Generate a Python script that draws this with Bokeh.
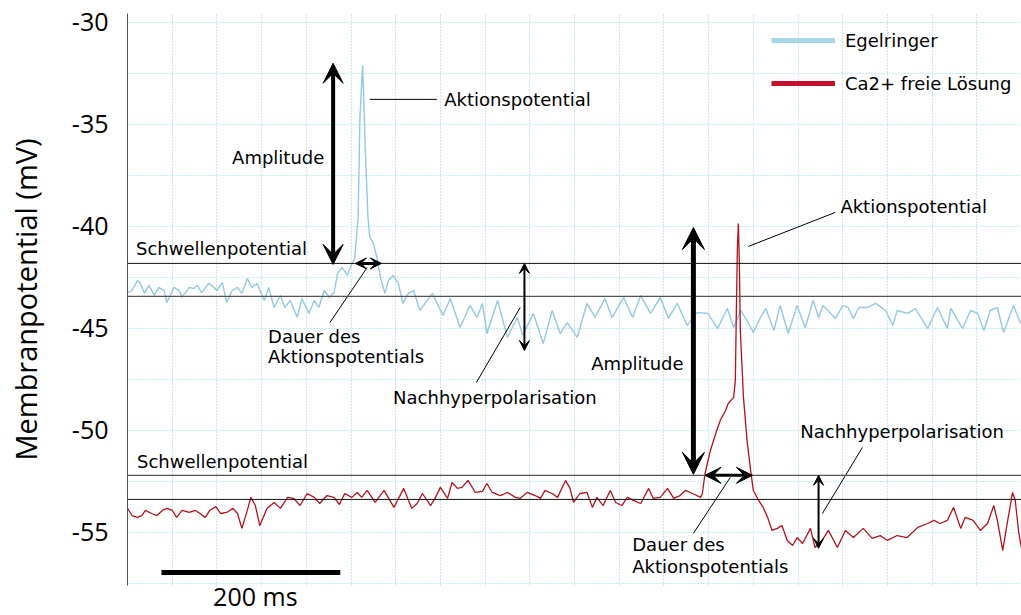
from bokeh.plotting import figure
from bokeh.models import (Range1d, FixedTicker, Span, Arrow, VeeHead, Legend,
                          LegendItem)
from bokeh.core.properties import value
from bokeh.embed import file_html
from bokeh.resources import INLINE

# ---------------- data (time in ms, membrane potential in mV) ----------------
blue_t = [0, 5, 11, 14, 19, 24, 30, 35, 41, 44, 52, 58, 61, 69, 74, 78, 83, 91,
          97, 100, 106, 111, 117, 123, 128, 134, 139, 145, 153, 158, 164, 171,
          176, 182, 190, 195, 203, 209, 214, 220, 226, 231, 235, 240, 246, 249,
          254, 258, 260, 263, 264, 266, 269, 271, 275, 279, 283, 288, 292, 297,
          303, 308, 314, 320, 327, 341, 353, 361, 372, 383, 391, 397, 402, 414,
          425, 436, 442, 454, 465, 475, 484, 492, 503, 514, 523, 534, 542, 555,
          565, 574, 585, 596, 605, 615, 626, 637, 649, 660, 671, 678, 686, 693,
          700, 708, 714, 723, 730, 739, 749, 758, 767, 773, 778, 792, 800, 806,
          812, 818, 828, 837, 848, 856, 861, 873, 881, 895, 906, 917, 921, 934,
          943, 951, 958, 965, 973, 980, 991, 999]
blue_mv = [-43.24, -43.14, -42.65, -42.75, -43.28, -42.89, -43.38, -42.99, -43.14,
           -43.73, -42.99, -43.14, -43.48, -42.99, -43.04, -42.89, -43.24, -42.79,
           -42.99, -43.14, -42.75, -43.73, -43.14, -42.99, -43.28, -42.55, -42.99,
           -42.79, -43.63, -42.99, -43.97, -43.38, -43.97, -43.63, -44.46, -43.53,
           -44.26, -43.63, -43.97, -43.14, -43.48, -43.24, -42.30, -42.01, -42.40,
           -42.01, -41.57, -39.56, -34.66, -32.11, -33.33, -36.27, -39.56, -40.54,
           -40.83, -41.52, -42.50, -43.28, -42.65, -42.40, -42.79, -43.77, -43.28,
           -43.14, -44.12, -43.28, -44.36, -43.53, -44.95, -43.87, -44.46, -43.77,
           -45.25, -43.63, -45.44, -44.46, -45.34, -44.26, -45.74, -44.12, -45.25,
           -44.71, -45.44, -43.77, -44.46, -43.53, -44.46, -43.48, -44.46, -43.38,
           -44.26, -43.48, -44.51, -43.77, -44.85, -44.22, -44.26, -45.00, -44.02,
           -44.95, -44.12, -44.61, -45.20, -44.46, -44.02, -45.10, -43.87, -45.25,
           -43.87, -44.95, -43.63, -44.46, -43.87, -44.51, -43.87, -43.97, -44.51,
           -43.97, -43.97, -43.77, -44.12, -44.85, -44.12, -44.26, -44.02, -45.00,
           -43.97, -45.00, -44.02, -45.00, -44.12, -44.26, -45.10, -44.12, -43.97,
           -45.20, -43.87, -44.75]

red_t = [0, 5, 11, 16, 20, 27, 33, 39, 44, 50, 55, 61, 69, 76, 81, 87, 92, 99,
         104, 111, 118, 123, 128, 134, 138, 143, 148, 156, 164, 171, 179, 186,
         193, 201, 209, 215, 223, 231, 237, 243, 251, 257, 262, 268, 277, 287,
         298, 309, 318, 324, 330, 339, 344, 350, 358, 363, 369, 374, 381, 389,
         397, 402, 408, 417, 425, 434, 439, 447, 456, 462, 467, 475, 481, 490,
         495, 499, 506, 514, 520, 525, 532, 540, 546, 553, 559, 566, 574, 583,
         588, 596, 604, 611, 618, 624, 632, 641, 643, 646, 652, 658, 663, 669,
         672, 678, 679.9, 681.0, 682.2, 683.3, 684.4, 685.5, 689, 693, 697, 700,
         706, 711, 716, 721, 727, 732, 738, 744, 749, 755, 764, 769, 777, 784,
         794, 803, 812, 823, 833, 842, 850, 861, 872, 884, 895, 902, 909, 917,
         924, 932, 937, 946, 954, 962, 969, 973, 979, 984, 990, 993, 997, 1000]
red_mv = [-53.82, -54.17, -54.26, -54.17, -53.92, -54.07, -54.17, -53.92, -53.82,
          -53.92, -54.26, -53.92, -54.02, -53.92, -54.07, -54.26, -53.92, -53.73,
          -54.07, -54.02, -53.82, -54.07, -54.80, -53.92, -53.28, -53.68, -54.66,
          -53.82, -53.53, -53.82, -53.28, -53.33, -53.68, -53.09, -53.28, -53.58,
          -53.19, -53.28, -53.63, -53.09, -53.28, -53.04, -53.28, -52.94, -53.53,
          -52.94, -53.77, -52.84, -53.82, -53.58, -53.09, -53.68, -53.33, -52.79,
          -53.33, -52.55, -52.84, -52.79, -52.45, -53.04, -52.99, -52.60, -53.04,
          -53.19, -53.04, -53.28, -53.33, -53.04, -53.19, -53.33, -52.94, -53.09,
          -53.28, -52.45, -52.84, -53.53, -53.09, -53.04, -53.77, -53.28, -53.68,
          -52.94, -53.53, -53.68, -53.28, -53.43, -53.58, -52.84, -53.33, -53.28,
          -52.84, -53.33, -53.19, -52.94, -53.09, -53.28, -53.09, -52.11, -50.98,
          -50.15, -49.51, -49.02, -48.68, -48.38, -47.55, -44.26, -41.03, -39.85,
          -41.81, -45.10, -48.38, -50.49, -51.96, -52.94, -53.43, -53.77, -54.26,
          -54.90, -54.80, -54.66, -55.39, -55.64, -55.25, -55.54, -54.80, -55.74,
          -55.39, -54.90, -55.74, -54.90, -55.25, -54.80, -55.29, -55.15, -55.39,
          -55.15, -55.25, -54.75, -54.56, -54.41, -54.56, -54.41, -53.77, -54.80,
          -54.26, -54.41, -54.90, -54.56, -53.68, -54.41, -55.88, -54.56, -53.04,
          -53.43, -55.05, -55.74]

series_names = ["Egelringer", "Ca2+ freie Lösung"]
y_ticks = [-55, -50, -45, -40, -35, -30]
threshold_levels = [-41.81, -52.2]     # Schwellenpotential (blue, red)
resting_levels = [-43.43, -53.38]      # baseline (blue, red)
scale_bar_start = 38
scale_bar_ms = 200
scale_bar_label = "200 ms"

BLUE = "#93c9e2"
RED = "#b3121c"
FONT = "DejaVu Sans"

p = figure(width=1021, height=615, x_range=Range1d(0, 1000),
           y_range=Range1d(-57.6, -29.56), output_backend="svg",
           toolbar_location=None, min_border_left=127, min_border_right=0,
           min_border_top=13, min_border_bottom=30)
p.outline_line_color = None
p.background_fill_color = "white"
p.border_fill_color = "white"

# grid
p.xgrid.ticker = FixedTicker(ticks=list(range(0, 1001, 50)))
p.ygrid.ticker = FixedTicker(ticks=[-57.5 + 2.5 * i for i in range(12)])
for g in (p.xgrid, p.ygrid):
    g.grid_line_color = "#8fd5e3"
    g.grid_line_dash = "1 2"
    g.grid_line_width = 1

# y axis
ya = p.yaxis[0]
ya.ticker = FixedTicker(ticks=y_ticks)
ya.major_label_overrides = {t: str(t) for t in y_ticks}
ya.axis_label = "Membranpotential (mV)"
ya.axis_label_text_font = "Open Sans"
ya.axis_label_text_font_size = "29px"
ya.axis_label_text_font_style = "normal"
ya.axis_label_text_color = "black"
ya.axis_label_standoff = 24
ya.major_label_text_font = "Open Sans"
ya.major_label_text_font_size = "25px"
ya.major_label_text_color = "black"
ya.major_label_standoff = 19
ya.major_tick_out = 0
ya.major_tick_in = 0
ya.minor_tick_out = 0
ya.minor_tick_in = 0
ya.axis_line_color = "#555555"

# x axis: carries only the scale-bar label
xa = p.xaxis[0]
label_pos = int(scale_bar_start + scale_bar_ms / 2 + 5)
xa.ticker = FixedTicker(ticks=[label_pos])
xa.major_label_overrides = {label_pos: scale_bar_label}
xa.major_label_text_font = "Open Sans"
xa.major_label_text_font_size = "25px"
xa.major_label_text_color = "black"
xa.major_label_standoff = -7
xa.major_tick_out = 0
xa.major_tick_in = 0
xa.minor_tick_out = 0
xa.minor_tick_in = 0
xa.axis_line_color = None
xa.major_tick_line_color = None
xa.minor_tick_line_color = None

# reference lines
p.add_layout(Span(location=threshold_levels[0], dimension="width", line_color="#111111", line_width=1))
p.add_layout(Span(location=resting_levels[0], dimension="width", line_color="#555555", line_width=1.3))
p.add_layout(Span(location=threshold_levels[1], dimension="width", line_color="#555555", line_width=1.3))
p.add_layout(Span(location=resting_levels[1], dimension="width", line_color="#111111", line_width=1))

# traces
p.line(blue_t, blue_mv, line_color=BLUE, line_width=1.4)
p.line(red_t, red_mv, line_color=RED, line_width=1.3)

# legend with thick lines (renderers kept outside the visible range)
lb = p.line([-60, -50], [-40, -40], line_color="#a8d5e8", line_width=5)
lr = p.line([-60, -50], [-40, -40], line_color="#c8102e", line_width=5)
legend = Legend(items=[LegendItem(label=series_names[0], renderers=[lb]),
                       LegendItem(label=series_names[1], renderers=[lr])],
                location=(644, 482), padding=0, margin=0, spacing=3,
                glyph_width=64, glyph_height=40, label_height=40,
                label_standoff=10, label_text_font=FONT,
                label_text_font_size="18px", label_text_color="black",
                border_line_color=None, background_fill_alpha=0)
p.add_layout(legend)

# scale bar
p.segment(x0=[scale_bar_start], y0=[-56.96], x1=[scale_bar_start + scale_bar_ms],
          y1=[-56.96], line_color="black", line_width=5)

# arrows
def arrow(x0, y0, x1, y1, size, width):
    p.add_layout(Arrow(start=VeeHead(size=size, fill_color="black", line_color="black", line_width=1),
                       end=VeeHead(size=size, fill_color="black", line_color="black", line_width=1),
                       x_start=x0, y_start=y0, x_end=x1, y_end=y1,
                       line_color="black", line_width=width))

arrow(230, threshold_levels[0] - 0.05, 230, -32.0, 20, 4)       # amplitude blue
arrow(255, threshold_levels[0], 284, threshold_levels[0], 11, 3)  # duration blue
arrow(444, threshold_levels[0], 444, -46.08, 10, 2)             # AHP blue
arrow(633, threshold_levels[1] + 0.05, 633, -40.05, 22, 5)      # amplitude red
arrow(646, threshold_levels[1], 699, threshold_levels[1], 16, 3)  # duration red
arrow(773, threshold_levels[1], 773, -55.78, 10, 2)             # AHP red

# leader lines
p.segment(x0=[271, 226.4, 439.3, 694.4, 674.3, 777.3],
          y0=[-33.77, -44.71, -43.97, -40.98, -52.30, -54.07],
          x1=[346, 268.1, 390.2, 791.7, 632.9, 822.1],
          y1=[-33.77, -42.01, -47.65, -39.31, -55.05, -50.83],
          line_color="black", line_width=1)

# annotation texts
ann_text = ["Amplitude", "Schwellenpotential", "Aktionspotential", "Dauer des",
            "Aktionspotentials", "Nachhyperpolarisation", "Amplitude",
            "Aktionspotential", "Schwellenpotential", "Nachhyperpolarisation",
            "Dauer des", "Aktionspotentials"]
ann_x = [117, 9.5, 354.2, 157.2, 157.2, 297.1, 518.8, 797.4, 10.6, 752.6, 564.6, 564.6]
ann_y = [-36.62, -41.08, -33.77, -45.39, -46.37, -48.38, -46.72, -39.02, -51.52,
         -50.05, -55.59, -56.67]
p.text(x=ann_x, y=ann_y, text=ann_text, text_font=value(FONT),
       text_font_size="18px", text_baseline="middle", text_align="left",
       text_color="black")

open("out.html", "w").write(file_html(p, INLINE))
